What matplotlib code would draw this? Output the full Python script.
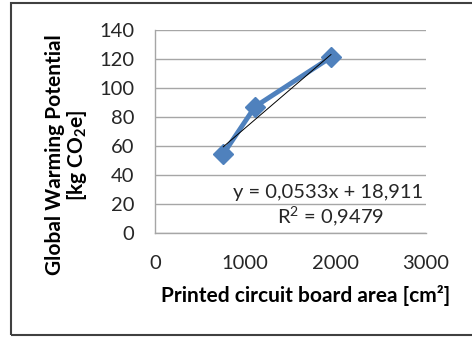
import matplotlib

matplotlib.use("Agg")
import matplotlib.pyplot as plt  # noqa: E402
import numpy as np  # noqa: E402

# PCB area [cm²] vs GWP [kg CO2e]
area = [757, 1108, 1950]
gwp = [54.3, 86.9, 121.0]
slope, intercept = 0.0533, 18.911
eq_text = "y = 0,0533x + 18,911"
r2_text = "R$^2$ = 0,9479"
xticks = [0, 1000, 2000, 3000]
yticks = [0, 20, 40, 60, 80, 100, 120, 140]

plt.rcParams["font.family"] = ["Lato", "DejaVu Sans"]
plt.rcParams["mathtext.fontset"] = "custom"
plt.rcParams["mathtext.rm"] = "Lato"
plt.rcParams["mathtext.bf"] = "Lato:bold"

fig = plt.figure(figsize=(4.72, 3.37), dpi=100)
ax = fig.add_axes([155 / 472, 1 - 232.7 / 337, 270.7 / 472, 203 / 337])

# outer frame
fig.patches.append(plt.Rectangle((11 / 472, 2 / 337), 470 / 472, 332 / 337,
                                 transform=fig.transFigure, fill=False,
                                 edgecolor="#404040", linewidth=1.5))

ax.plot(area, gwp, color="#4F81BD", linewidth=3.5, marker="D", markersize=10,
        zorder=3)
xs = np.array([min(area), max(area)])
ax.plot(xs, slope * xs + intercept, color="black", linewidth=0.7, zorder=4)

ax.set_xlim(0, 3000)
ax.set_ylim(0, 140)
ax.set_xticks(xticks)
ax.set_yticks(yticks)
ax.tick_params(length=0, labelsize=14.5, colors="#262626")
ax.tick_params(axis="y", pad=15)
ax.tick_params(axis="x", pad=16)
ax.yaxis.grid(True, color="#A6A6A6", linewidth=1)
ax.set_axisbelow(True)
for side in ("top", "right"):
    ax.spines[side].set_visible(False)
for side in ("left", "bottom"):
    ax.spines[side].set_color("#A6A6A6")
    ax.spines[side].set_linewidth(1)

ax.text(0.99, 0.20, eq_text, transform=ax.transAxes, ha="right",
        va="center", fontsize=14.5, color="#262626")
ax.text(0.647, 0.077, r2_text, transform=ax.transAxes, ha="center",
        va="center", fontsize=14.5, color="#262626")

fig.text(306 / 472, 1 - 295 / 337, "Printed circuit board area [cm²]",
         ha="center", va="center", fontsize=15, fontweight="bold")
fig.text(67 / 472, 1 - 155 / 337,
         "Global Warming Potential\n[kg CO$_\\mathbf{2}$e]",
         ha="center", va="center", rotation=90, fontsize=15,
         fontweight="bold", linespacing=1.05)

fig.savefig("out.png", dpi=100)
